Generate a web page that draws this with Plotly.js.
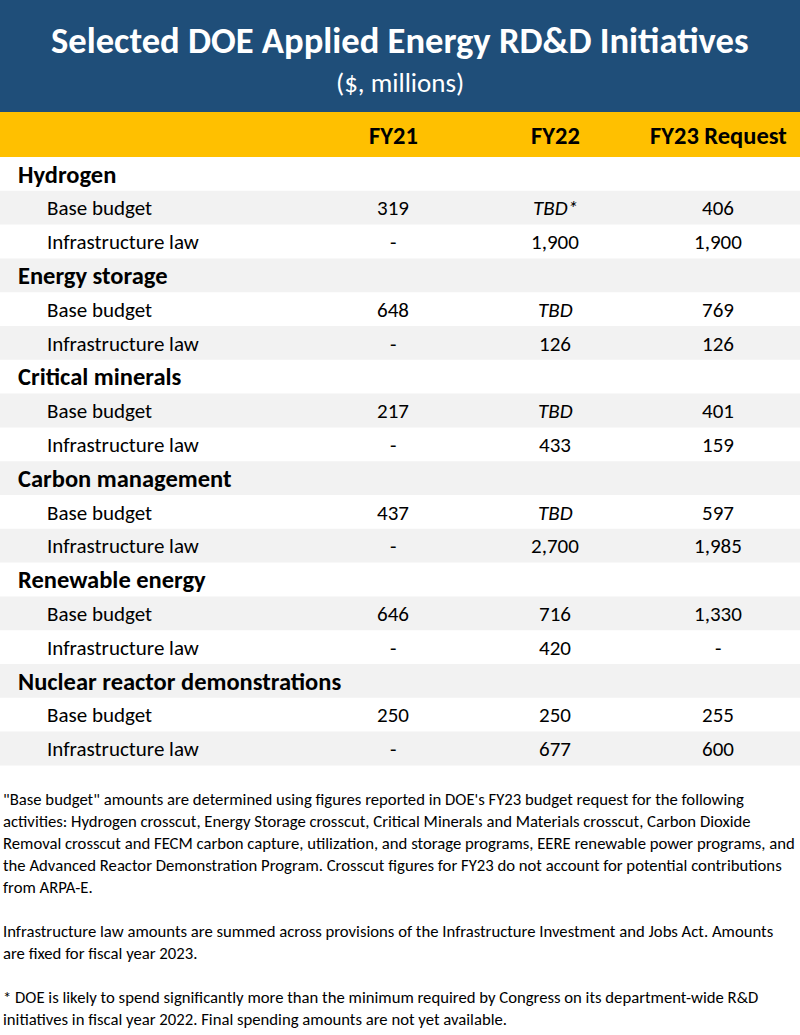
<!DOCTYPE html>
<html><head><meta charset="utf-8">
<script src="https://cdn.plot.ly/plotly-3.0.1.min.js"></script>
<style>html,body{margin:0;padding:0;background:#fff}#chart{width:800px;height:1035px}</style>
</head><body><div id="chart"></div>
<script>
const titleText = "Selected DOE Applied Energy RD&D Initiatives";
const subtitleText = "($, millions)";
const columnHeaders = ["FY21", "FY22", "FY23 Request"];
const categories = ["Hydrogen", "Energy storage", "Critical minerals", "Carbon management", "Renewable energy", "Nuclear reactor demonstrations"];
const subLabels = ["Base budget", "Infrastructure law"];
const fy21Base  = [319, 648, 217, 437, 646, 250];
const fy21Infra = [null, null, null, null, null, null];
const fy22Base  = ["TBD*", "TBD", "TBD", "TBD", 716, 250];
const fy22Infra = [1900, 126, 433, 2700, 420, 677];
const fy23Base  = [406, 769, 401, 597, 1330, 255];
const fy23Infra = [1900, 126, 159, 1985, null, 600];
const footnoteParas = [
  ["\"Base budget\" amounts are determined using figures reported in DOE's FY23 budget request for the following",
   "activities: Hydrogen crosscut, Energy Storage crosscut, Critical Minerals and Materials crosscut, Carbon Dioxide",
   "Removal crosscut and FECM carbon capture, utilization, and storage programs, EERE renewable power programs, and",
   "the Advanced Reactor Demonstration Program. Crosscut figures for FY23 do not account for potential contributions",
   "from ARPA-E."],
  ["Infrastructure law amounts are summed across provisions of the Infrastructure Investment and Jobs Act. Amounts",
   "are fixed for fiscal year 2023."],
  ["* DOE is likely to spend significantly more than the minimum required by Congress on its department-wide R&D",
   "initiatives in fiscal year 2022. Final spending amounts are not yet available."]
];

const FONT = "Carlito, Lato, 'Open Sans', sans-serif";
const W = 800, H = 1035;
const BLUE = "#1F4E79", GOLD = "#FFC000", GREY = "#F2F2F2";
// layout geometry (pixels, top-down)
const bandBottom = 112, headerBottom = 157, rowH = 33.8;
const catX = 16, subX = 45;
const valueCols = [393, 555, 718];

function fmt(v) {
  if (v === null) return "-";
  if (typeof v === "string") return "<i>" + v + "</i>";
  return v.toLocaleString("en-US");
}

// build rows from data
const rows = [];
categories.forEach((c, i) => {
  rows.push({label: c, cat: true, vals: ["", "", ""]});
  rows.push({label: subLabels[0], cat: false, vals: [fmt(fy21Base[i]), fmt(fy22Base[i]), fmt(fy23Base[i])]});
  rows.push({label: subLabels[1], cat: false, vals: [fmt(fy21Infra[i]), fmt(fy22Infra[i]), fmt(fy23Infra[i])]});
});

const shapes = [
  {type: "rect", xref: "x", yref: "y", x0: 0, x1: W, y0: 0, y1: bandBottom, fillcolor: BLUE, line: {width: 0}, layer: "below"},
  {type: "rect", xref: "x", yref: "y", x0: 0, x1: W, y0: bandBottom, y1: headerBottom, fillcolor: GOLD, line: {width: 0}, layer: "below"}
];
const annotations = [];
function ann(text, x, y, xanchor, size, color) {
  annotations.push({text: text, x: x, y: y, xref: "x", yref: "y", xanchor: xanchor, yanchor: "middle",
    showarrow: false, font: {family: FONT, size: size, color: color}});
}
ann("<b>" + titleText + "</b>", W / 2, 40.5, "center", 36.6, "#fff");
ann(subtitleText, W / 2, 82, "center", 27, "#fff");
columnHeaders.forEach((h, j) => ann("<b>" + h + "</b>", valueCols[j], 136, "center", 24.5, "#000"));

rows.forEach((r, k) => {
  const y0 = headerBottom + k * rowH, yc = y0 + rowH / 2 + 0.6;
  if (k % 2 === 1) shapes.push({type: "rect", xref: "x", yref: "y", x0: 0, x1: W, y0: y0, y1: y0 + rowH, fillcolor: GREY, line: {width: 0}, layer: "below"});
  if (r.cat) ann("<b>" + r.label + "</b>", catX, yc, "left", 24.5, "#000");
  else {
    ann(r.label, subX, yc, "left", 21, "#000");
    r.vals.forEach((v, j) => ann(v, valueCols[j], yc, "center", 21, "#000"));
  }
});

let lineY = 799;
footnoteParas.forEach(para => {
  para.forEach(line => { ann(line, 0.5, lineY, "left", 16.7, "#000"); lineY += 22; });
  lineY += 22;
});

const layout = {
  width: W, height: H,
  margin: {l: 0, r: 0, t: 0, b: 0, pad: 0},
  paper_bgcolor: "#fff", plot_bgcolor: "#fff",
  showlegend: false,
  xaxis: {range: [0, W], visible: false, fixedrange: true},
  yaxis: {range: [H, 0], visible: false, fixedrange: true},
  shapes: shapes,
  annotations: annotations
};
Plotly.newPlot("chart", [], layout, {displayModeBar: false, staticPlot: true});
</script></body></html>
